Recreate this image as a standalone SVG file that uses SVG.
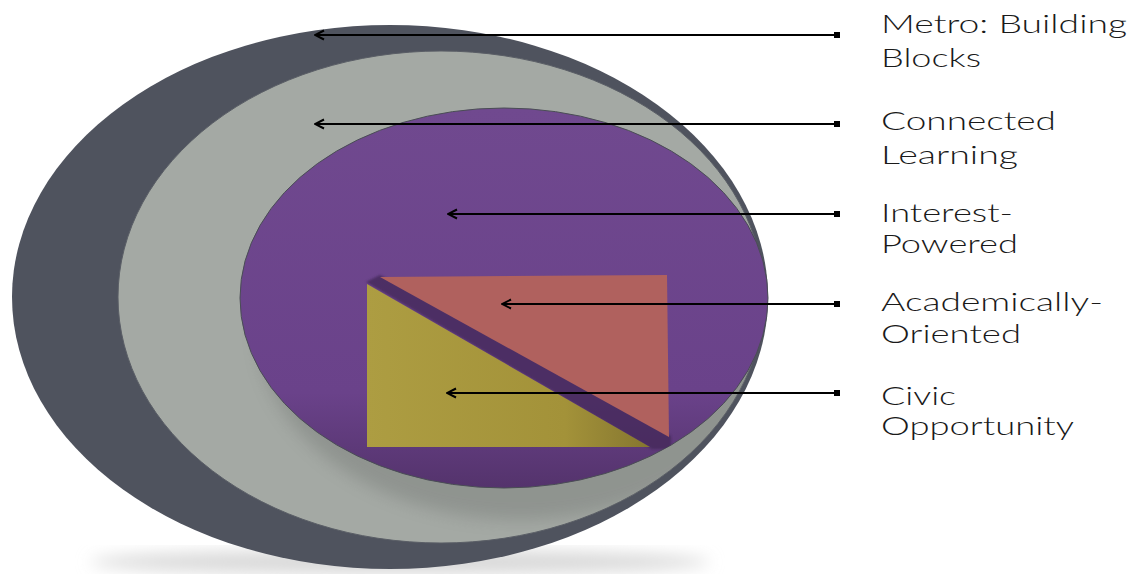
<svg xmlns="http://www.w3.org/2000/svg" width="1130" height="574" viewBox="0 0 1130 574">
<style>
.lbl{font-family:Lato,"Open Sans","DejaVu Sans",sans-serif;font-size:26px;font-weight:300;fill:#1a1a1a}
.conn{stroke:#000;stroke-width:2;fill:none}
</style>
<defs>
<filter id="blur8" x="-20%" y="-20%" width="140%" height="140%"><feGaussianBlur stdDeviation="8"/></filter>
<filter id="blur2" x="-20%" y="-20%" width="140%" height="140%"><feGaussianBlur stdDeviation="1.2"/></filter>
<clipPath id="grayClip"><ellipse cx="441" cy="297" rx="323" ry="246"/></clipPath>
<clipPath id="purpleClip"><ellipse cx="504" cy="298" rx="264" ry="190"/></clipPath>
<linearGradient id="yel" x1="0" y1="0" x2="1" y2="0">
<stop offset="0" stop-color="#ad9d42"/><stop offset="0.7" stop-color="#a39239"/><stop offset="1" stop-color="#857630"/>
</linearGradient>
<linearGradient id="pur" x1="0" y1="0" x2="0" y2="1">
<stop offset="0" stop-color="#70498f"/><stop offset="0.75" stop-color="#6a428a"/><stop offset="1" stop-color="#54336c"/>
</linearGradient>
<marker id="head" viewBox="0 0 12 12" refX="11" refY="6" markerWidth="12" markerHeight="12" markerUnits="userSpaceOnUse" orient="auto">
<path d="M2,1.5 L11,6 L2,10.5" fill="none" stroke="#000" stroke-width="2"/>
</marker>
<marker id="sq" viewBox="0 0 8 8" refX="4" refY="4" markerWidth="7" markerHeight="6" markerUnits="userSpaceOnUse">
<rect x="0" y="0" width="8" height="8" fill="#000"/>
</marker>
</defs>

<g id="ground-shadow">
<ellipse cx="400" cy="562" rx="310" ry="12" fill="#d8d8d8" filter="url(#blur8)"/>
</g>

<g id="metro">
<ellipse cx="390" cy="297" rx="378" ry="272" fill="#4f535e"/>
</g>

<g id="connected">
<ellipse cx="441" cy="297" rx="323" ry="246" fill="#a4a9a4" stroke="#5a5e66" stroke-width="1"/>
<g clip-path="url(#grayClip)">
<ellipse cx="520" cy="330" rx="262" ry="190" fill="#6a6e6c" opacity="0.35" filter="url(#blur8)"/>
</g>
</g>

<g id="interest">
<ellipse cx="504" cy="298" rx="264" ry="190" fill="url(#pur)" stroke="#4a4d55" stroke-width="1"/>
<g clip-path="url(#purpleClip)">
<polygon points="366,282 380,275 671,436 671,449 652,449" fill="#45295a" opacity="0.8" filter="url(#blur2)"/>
</g>
</g>

<g id="academic">
<polygon points="380,277 667,275 669,437" fill="#b0615e"/>
</g>

<g id="civic">
<polygon points="367,284 367,447 650,447" fill="url(#yel)"/>
</g>

<g id="connectors">
<line class="conn" x1="837" y1="35" x2="315" y2="35" marker-start="url(#sq)" marker-end="url(#head)"/>
<line class="conn" x1="837" y1="124" x2="315" y2="124" marker-start="url(#sq)" marker-end="url(#head)"/>
<line class="conn" x1="837" y1="214" x2="448" y2="214" marker-start="url(#sq)" marker-end="url(#head)"/>
<line class="conn" x1="837" y1="304" x2="502" y2="304" marker-start="url(#sq)" marker-end="url(#head)"/>
<line class="conn" x1="837" y1="393" x2="447" y2="393" marker-start="url(#sq)" marker-end="url(#head)"/>
</g>

<g id="labels">
<text class="lbl" x="881" y="33" textLength="246" lengthAdjust="spacingAndGlyphs">Metro: Building</text>
<text class="lbl" x="881" y="67" textLength="100" lengthAdjust="spacingAndGlyphs">Blocks</text>
<text class="lbl" x="881" y="130" textLength="175" lengthAdjust="spacingAndGlyphs">Connected</text>
<text class="lbl" x="881" y="164" textLength="137" lengthAdjust="spacingAndGlyphs">Learning</text>
<text class="lbl" x="881" y="222" textLength="132" lengthAdjust="spacingAndGlyphs">Interest-</text>
<text class="lbl" x="881" y="253" textLength="137" lengthAdjust="spacingAndGlyphs">Powered</text>
<text class="lbl" x="881" y="311" textLength="222" lengthAdjust="spacingAndGlyphs">Academically-</text>
<text class="lbl" x="881" y="343" textLength="140" lengthAdjust="spacingAndGlyphs">Oriented</text>
<text class="lbl" x="881" y="405" textLength="75" lengthAdjust="spacingAndGlyphs">Civic</text>
<text class="lbl" x="881" y="435" textLength="193" lengthAdjust="spacingAndGlyphs">Opportunity</text>
</g>
</svg>
